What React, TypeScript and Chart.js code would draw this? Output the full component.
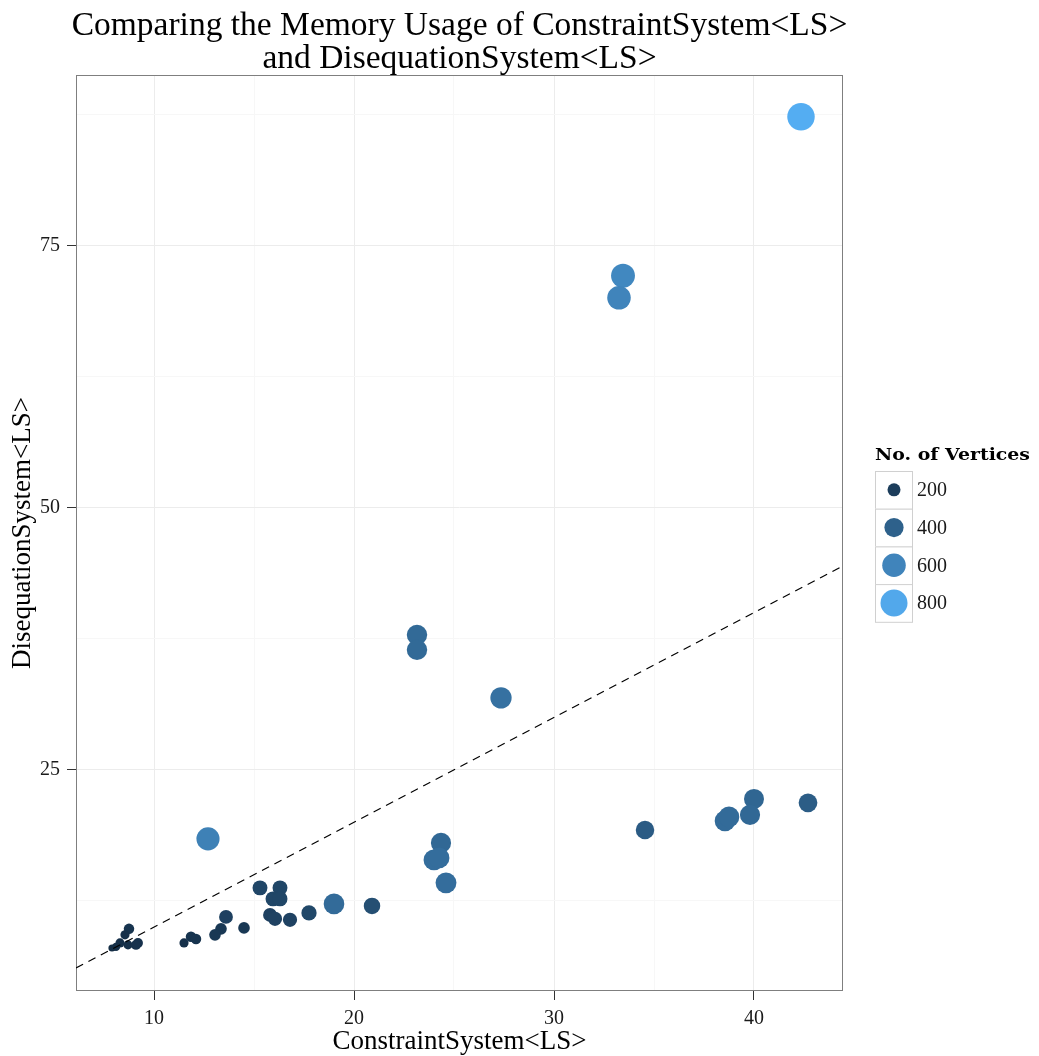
import React, { useEffect, useRef } from "react";
import { Chart, registerables } from "chart.js";

Chart.register(...registerables);

// ---- data ----
const constraintMem = [
  42.35, 33.45, 33.25, 23.15, 23.15, 27.35, 12.7, 24.35, 24.0, 24.25,
  24.6, 34.55, 38.55, 38.75, 40.0, 39.8, 42.7, 19.0, 20.9, 17.75,
  16.8, 15.8, 16.05, 15.3, 16.3, 15.95, 16.3, 13.6, 13.35, 13.05,
  14.5, 11.5, 11.85, 12.1, 8.75, 8.55, 8.3, 8.1, 8.7, 9.2,
  9.1, 7.9,
];
const disequationMem = [
  87.31, 72.14, 70.04, 37.88, 36.45, 31.87, 18.42, 18.03, 16.41, 16.6,
  14.22, 19.27, 20.13, 20.51, 22.23, 20.71, 21.85, 12.21, 12.02, 11.35,
  10.69, 11.16, 10.79, 13.74, 13.74, 12.69, 12.69, 10.97, 9.83, 9.26,
  9.92, 8.49, 9.07, 8.87, 9.83, 9.26, 8.49, 8.11, 8.3, 8.49,
  8.3, 8.0,
];
const vertices = [
  830, 620, 600, 450, 450, 490, 580, 440, 470, 470,
  470, 370, 460, 460, 430, 440, 380, 460, 300, 260,
  230, 220, 230, 250, 250, 250, 250, 220, 170, 170,
  170, 130, 150, 150, 150, 130, 130, 120, 130, 140,
  140, 110,
];

const xRange = [6.1, 44.45];
const yRange = [3.9, 91.3];
const xMajorTicks = [10, 20, 30, 40];
const xMinorTicks = [15, 25, 35];
const yMajorTicks = [25, 50, 75];
const yMinorTicks = [12.5, 37.5, 62.5, 87.5];
const legendValues = [200, 400, 600, 800];
const vertexDomain = [100, 850];

const titleLines = [
  "Comparing the Memory Usage of ConstraintSystem<LS>",
  "and DisequationSystem<LS>",
];
const xTitle = "ConstraintSystem<LS>";
const yTitle = "DisequationSystem<LS>";
const legendTitle = "No. of Vertices";

// ---- styles ----
const FONT = "'Liberation Serif', 'DejaVu Serif', serif";
const LEGEND_TITLE_FONT = "'DejaVu Serif', 'Liberation Serif', serif";
const LOW = [19, 43, 67];
const HIGH = [86, 177, 247];

function tOf(v: number) {
  const t = (v - vertexDomain[0]) / (vertexDomain[1] - vertexDomain[0]);
  return Math.max(0, Math.min(1, t));
}
function colorOf(v: number) {
  const t = tOf(v);
  const c = LOW.map((l, i) => Math.round(l + (HIGH[i] - l) * t));
  return `rgb(${c[0]},${c[1]},${c[2]})`;
}
function radiusOf(v: number) {
  const d = 4.5 + 23.3 * Math.sqrt(tOf(v));
  return d / 2;
}

const PLOT = { left: 76, top: 75, right: 843, bottom: 991 };

export default function App() {
  const ref = useRef<HTMLCanvasElement | null>(null);

  useEffect(() => {
    const canvas = ref.current;
    if (!canvas) return;

    const points = constraintMem.map((x, i) => ({ x, y: disequationMem[i] }));
    const diag = [
      { x: xRange[0], y: xRange[0] },
      { x: xRange[1], y: xRange[1] },
    ];

    const decor = {
      id: "decor",
      beforeDatasetsDraw(chart: any) {
        const { ctx, chartArea } = chart;
        ctx.save();
        ctx.strokeStyle = "#7f7f7f";
        ctx.lineWidth = 1;
        ctx.strokeRect(
          Math.round(chartArea.left) + 0.5,
          Math.round(chartArea.top) + 0.5,
          Math.round(chartArea.right - chartArea.left) - 1,
          Math.round(chartArea.bottom - chartArea.top) - 1
        );
        ctx.restore();
      },
      afterDraw(chart: any) {
        const { ctx, chartArea } = chart;
        ctx.save();
        // main title
        const cx = (chartArea.left + chartArea.right) / 2;
        ctx.fillStyle = "#000";
        ctx.textAlign = "center";
        ctx.textBaseline = "alphabetic";
        ctx.font = `33.5px ${FONT}`;
        ctx.fillText(titleLines[0], cx, 35);
        ctx.fillText(titleLines[1], cx, 68);

        // legend
        const lx = 875;
        ctx.textAlign = "left";
        ctx.font = `bold 17px ${LEGEND_TITLE_FONT}`;
        const tw = ctx.measureText(legendTitle).width;
        const sx = Math.min(1.15, Math.max(0.85, 155 / tw));
        ctx.save();
        ctx.translate(lx, 460);
        ctx.scale(sx, 1);
        ctx.fillText(legendTitle, 0, 0);
        ctx.restore();

        const boxW = 37;
        const boxH = 37.7;
        const top0 = 471;
        legendValues.forEach((v, i) => {
          const by = top0 + i * boxH;
          ctx.fillStyle = "#fff";
          ctx.fillRect(lx, by, boxW, boxH);
          ctx.strokeStyle = "#d0d0d0";
          ctx.lineWidth = 1;
          ctx.strokeRect(lx + 0.5, by + 0.5, boxW, boxH);
          ctx.beginPath();
          ctx.fillStyle = colorOf(v);
          ctx.arc(lx + boxW / 2 + 0.5, by + boxH / 2, radiusOf(v), 0, Math.PI * 2);
          ctx.fill();
          ctx.fillStyle = "#1a1a1a";
          ctx.font = `20px ${FONT}`;
          ctx.textBaseline = "middle";
          ctx.fillText(String(v), lx + boxW + 5, by + boxH / 2 + 1);
          ctx.textBaseline = "alphabetic";
        });
        ctx.restore();
      },
    };

    const chart = new Chart(canvas, {
      type: "scatter",
      data: {
        datasets: [
          {
            type: "line",
            data: diag,
            borderColor: "#000",
            borderWidth: 1.2,
            borderDash: [8, 6],
            pointRadius: 0,
            fill: false,
          } as any,
          {
            type: "scatter",
            data: points,
            pointRadius: (c: any) => radiusOf(vertices[c.dataIndex]),
            pointHoverRadius: (c: any) => radiusOf(vertices[c.dataIndex]),
            backgroundColor: (c: any) => colorOf(vertices[c.dataIndex]),
            borderWidth: 0,
          } as any,
        ],
      },
      options: {
        responsive: false,
        animation: false,
        devicePixelRatio: 1,
        events: [],
        layout: {
          padding: {
            top: PLOT.top,
            left: 0,
            right: 1039 - PLOT.right,
            bottom: 0,
          },
        },
        plugins: {
          legend: { display: false },
          title: { display: false },
          tooltip: { enabled: false },
        },
        scales: {
          x: {
            type: "linear",
            position: "bottom",
            min: xRange[0],
            max: xRange[1],
            afterFit: (s: any) => {
              s.height = 1056 - PLOT.bottom;
            },
            afterBuildTicks: (s: any) => {
              s.ticks = [...xMajorTicks, ...xMinorTicks]
                .sort((a, b) => a - b)
                .map((v) => ({ value: v }));
            },
            border: { display: false },
            grid: {
              color: (c: any) =>
                xMajorTicks.includes(c.tick?.value) ? "#ececec" : "#f7f7f7",
              lineWidth: 1,
              tickLength: 9,
              tickColor: (c: any) =>
                xMajorTicks.includes(c.tick?.value) ? "#333" : "rgba(0,0,0,0)",
            },
            ticks: {
              autoSkip: false,
              maxRotation: 0,
              padding: 7,
              color: "#1a1a1a",
              font: { family: FONT, size: 20 },
              callback: (v: any) => (xMajorTicks.includes(Number(v)) ? String(v) : ""),
            },
            title: {
              display: true,
              text: xTitle,
              color: "#000",
              font: { family: FONT, size: 27, lineHeight: 1 },
              padding: { top: 0, bottom: 1 },
            },
          },
          y: {
            type: "linear",
            position: "left",
            min: yRange[0],
            max: yRange[1],
            afterFit: (s: any) => {
              s.width = PLOT.left;
            },
            afterBuildTicks: (s: any) => {
              s.ticks = [...yMajorTicks, ...yMinorTicks]
                .sort((a, b) => a - b)
                .map((v) => ({ value: v }));
            },
            border: { display: false },
            grid: {
              color: (c: any) =>
                yMajorTicks.includes(c.tick?.value) ? "#ececec" : "#f7f7f7",
              lineWidth: 1,
              tickLength: 9,
              tickColor: (c: any) =>
                yMajorTicks.includes(c.tick?.value) ? "#333" : "rgba(0,0,0,0)",
            },
            ticks: {
              autoSkip: false,
              padding: 7,
              color: "#1a1a1a",
              font: { family: FONT, size: 20 },
              callback: (v: any) => (yMajorTicks.includes(Number(v)) ? String(v) : ""),
            },
            title: {
              display: true,
              text: yTitle,
              color: "#000",
              font: { family: FONT, size: 27, lineHeight: 1 },
              padding: { top: 9, bottom: 0 },
            },
          },
        },
      },
      plugins: [decor],
    });

    return () => chart.destroy();
  }, []);

  return (
    <div
      style={{
        position: "absolute",
        left: 0,
        top: 0,
        width: 1039,
        height: 1056,
        background: "#fff",
      }}
    >
      <canvas ref={ref} width={1039} height={1056} style={{ display: "block" }} />
    </div>
  );
}
